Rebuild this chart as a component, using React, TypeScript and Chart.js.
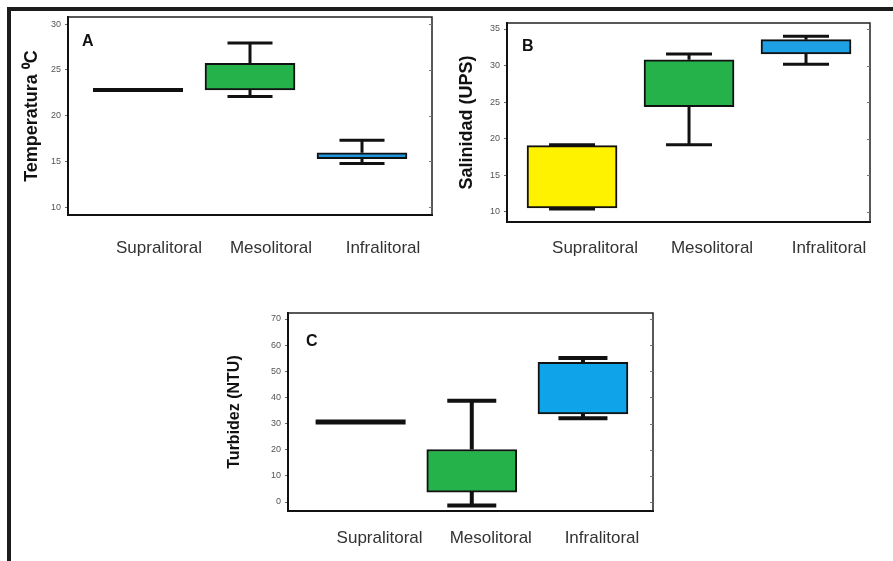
import { useEffect, useRef } from "react";
import { Chart, registerables } from "chart.js";

Chart.register(...registerables);

const FONT = 'Arial, "Liberation Sans", Helvetica, sans-serif';

// ---------- DATA ----------
const categories = ["Supralitoral", "Mesolitoral", "Infralitoral"];
const categoryPositions = [1, 2, 3];

// A — Temperatura (°C)
const tempMin = [22.8, 22.07, 14.75];
const tempQ1 = [22.8, 22.8, 15.3];
const tempQ3 = [22.8, 25.72, 15.92];
const tempMax = [22.8, 27.92, 17.3];
const tempTicks = [10, 15, 20, 25, 30];

// B — Salinidad (UPS)
const salMin = [10.4, 19.2, 30.2];
const salQ1 = [10.55, 24.4, 31.58];
const salQ3 = [19.06, 30.8, 33.54];
const salMax = [19.2, 31.58, 34.0];
const salTicks = [10, 15, 20, 25, 30, 35];

// C — Turbidez (NTU)
const turMin = [30.6, -1.3, 32.0];
const turQ1 = [30.6, 3.8, 33.7];
const turQ3 = [30.6, 20.1, 53.4];
const turMax = [30.6, 38.7, 55.1];
const turTicks = [0, 10, 20, 30, 40, 50, 60, 70];

// ---------- PANELS (layout / style) ----------
type Panel = {
  letter: string;
  title: string;
  titleSize: number;
  mins: number[];
  q1: number[];
  q3: number[];
  maxs: number[];
  ticks: number[];
  colors: string[];
  plot: { l: number; t: number; r: number; b: number };
  yMin: number;
  yMax: number;
  xMin: number;
  xMax: number;
  canvasLeft: number;
  titleCenterX: number;
  labelY: number;
  labelOffset: number;
  boxWidth: number;
  capWidth: number;
  whisker: number;
  flatLine: number;
  letterDx: number;
  letterDy: number;
};

const panels: Panel[] = [
  {
    letter: "A",
    title: "Temperatura \u2070C",
    titleSize: 18,
    mins: tempMin,
    q1: tempQ1,
    q3: tempQ3,
    maxs: tempMax,
    ticks: tempTicks,
    colors: ["#26b24b", "#26b24b", "#1b95dc"],
    plot: { l: 68, t: 17, r: 432, b: 215 },
    yMin: 9.13,
    yMax: 30.77,
    xMin: 0.375,
    xMax: 3.625,
    canvasLeft: 12,
    titleCenterX: 32,
    labelY: 248,
    labelOffset: 21,
    boxWidth: 90,
    capWidth: 45,
    whisker: 3,
    flatLine: 4,
    letterDx: 14,
    letterDy: 25,
  },
  {
    letter: "B",
    title: "Salinidad (UPS)",
    titleSize: 18,
    mins: salMin,
    q1: salQ1,
    q3: salQ3,
    maxs: salMax,
    ticks: salTicks,
    colors: ["#fff200", "#26b24b", "#1ea0e4"],
    plot: { l: 507, t: 23, r: 870, b: 222 },
    yMin: 8.63,
    yMax: 35.82,
    xMin: 0.444,
    xMax: 3.547,
    canvasLeft: 445,
    titleCenterX: 467,
    labelY: 248,
    labelOffset: 23,
    boxWidth: 90,
    capWidth: 46,
    whisker: 3,
    flatLine: 4,
    letterDx: 15,
    letterDy: 24,
  },
  {
    letter: "C",
    title: "Turbidez (NTU)",
    titleSize: 16,
    mins: turMin,
    q1: turQ1,
    q3: turQ3,
    maxs: turMax,
    ticks: turTicks,
    colors: ["#26b24b", "#26b24b", "#0fa3ea"],
    plot: { l: 288, t: 313, r: 653, b: 511 },
    yMin: -3.44,
    yMax: 72.3,
    xMin: 0.347,
    xMax: 3.63,
    canvasLeft: 215,
    titleCenterX: 235,
    labelY: 538,
    labelOffset: 19,
    boxWidth: 90,
    capWidth: 49,
    whisker: 4,
    flatLine: 5,
    letterDx: 18,
    letterDy: 29,
  },
];

const PAD_TOP = 10;
const PAD_RIGHT = 4;

function BoxPanel({ p }: { p: Panel }) {
  const ref = useRef<HTMLCanvasElement | null>(null);

  const canvasTop = p.plot.t - PAD_TOP;
  const canvasW = p.plot.r + PAD_RIGHT - p.canvasLeft;
  const canvasBottom = p.labelY + 22;
  const canvasH = canvasBottom - canvasTop;

  useEffect(() => {
    const canvas = ref.current;
    if (!canvas) return;

    const yAxisW = p.plot.l - p.canvasLeft;
    const xAxisH = canvasBottom - p.plot.b;
    const labelLH = 17 * 1.2;
    const xPad = p.labelY - p.plot.b - labelLH / 2;
    const titlePad = p.titleCenterX - p.canvasLeft - (p.titleSize * 1.2) / 2;

    const boxData: any[] = [];
    const boxColors: string[] = [];
    categories.forEach((_, i) => {
      if (p.q1[i] !== p.q3[i]) {
        boxData.push({ x: categoryPositions[i], y: [p.q1[i], p.q3[i]] });
        boxColors.push(p.colors[i]);
      }
    });

    const overlay = {
      id: "boxOverlay" + p.letter,
      beforeDatasetsDraw(chart: any) {
        const { ctx } = chart;
        const xs = chart.scales.x;
        const ys = chart.scales.y;
        ctx.save();
        ctx.strokeStyle = "#111";
        ctx.lineWidth = p.whisker;
        ctx.lineCap = "butt";
        categories.forEach((_, i) => {
          if (p.q1[i] === p.q3[i] && p.mins[i] === p.maxs[i]) return;
          const cx = xs.getPixelForValue(categoryPositions[i]);
          const yMax = ys.getPixelForValue(p.maxs[i]);
          const yQ3 = ys.getPixelForValue(p.q3[i]);
          const yQ1 = ys.getPixelForValue(p.q1[i]);
          const yMinP = ys.getPixelForValue(p.mins[i]);
          const half = p.capWidth / 2;
          ctx.beginPath();
          ctx.moveTo(cx, yQ3);
          ctx.lineTo(cx, yMax);
          ctx.moveTo(cx - half, yMax);
          ctx.lineTo(cx + half, yMax);
          ctx.moveTo(cx, yQ1);
          ctx.lineTo(cx, yMinP);
          ctx.moveTo(cx - half, yMinP);
          ctx.lineTo(cx + half, yMinP);
          ctx.stroke();
        });
        ctx.restore();
      },
      afterDatasetsDraw(chart: any) {
        const { ctx, chartArea } = chart;
        const xs = chart.scales.x;
        const ys = chart.scales.y;
        ctx.save();
        // collapsed boxes (all values equal) drawn as a thick line
        categories.forEach((_, i) => {
          if (!(p.q1[i] === p.q3[i] && p.mins[i] === p.maxs[i])) return;
          const cx = xs.getPixelForValue(categoryPositions[i]);
          const yv = ys.getPixelForValue(p.q1[i]);
          ctx.strokeStyle = "#111";
          ctx.lineWidth = p.flatLine;
          ctx.beginPath();
          ctx.moveTo(cx - p.boxWidth / 2, yv);
          ctx.lineTo(cx + p.boxWidth / 2, yv);
          ctx.stroke();
        });
        // frame top / right
        ctx.strokeStyle = "#222";
        ctx.lineWidth = 1.5;
        ctx.beginPath();
        ctx.moveTo(chartArea.left, chartArea.top);
        ctx.lineTo(chartArea.right, chartArea.top);
        ctx.lineTo(chartArea.right, chartArea.bottom);
        ctx.stroke();
        // right inner ticks
        ctx.strokeStyle = "#777";
        ctx.lineWidth = 1;
        p.ticks.forEach((v) => {
          const yv = Math.round(ys.getPixelForValue(v)) + 0.5;
          ctx.beginPath();
          ctx.moveTo(chartArea.right, yv);
          ctx.lineTo(chartArea.right - 3, yv);
          ctx.stroke();
        });
        // panel letter
        ctx.fillStyle = "#111";
        ctx.font = `bold 16px ${FONT}`;
        ctx.textAlign = "left";
        ctx.textBaseline = "middle";
        ctx.fillText(p.letter, chartArea.left + p.letterDx, chartArea.top + p.letterDy);
        ctx.restore();
      },
    };

    const chart = new Chart(canvas, {
      type: "bar",
      data: {
        datasets: [
          {
            data: boxData,
            backgroundColor: boxColors,
            borderColor: "#111",
            borderWidth: 2,
            borderSkipped: false,
            barThickness: p.boxWidth,
          } as any,
        ],
      },
      options: {
        animation: false,
        responsive: false,
        devicePixelRatio: 1,
        events: [],
        layout: { padding: { top: PAD_TOP, right: PAD_RIGHT, left: 0, bottom: 0 } },
        plugins: { legend: { display: false }, tooltip: { enabled: false } },
        scales: {
          x: {
            type: "linear",
            offset: false,
            min: p.xMin,
            max: p.xMax,
            afterBuildTicks: (s: any) => {
              s.ticks = categoryPositions.map((v) => ({ value: v }));
            },
            afterFit: (s: any) => {
              s.height = xAxisH;
            },
            ticks: {
              autoSkip: false,
              maxRotation: 0,
              minRotation: 0,
              labelOffset: p.labelOffset,
              padding: xPad,
              color: "#333",
              font: { size: 17, family: FONT },
              callback: (_v: any, idx: number) => categories[idx],
            },
            grid: { display: false, drawTicks: false, offset: false },
            border: { display: true, color: "#111", width: 2 },
          } as any,
          y: {
            type: "linear",
            min: p.yMin,
            max: p.yMax,
            afterBuildTicks: (s: any) => {
              s.ticks = p.ticks.map((v) => ({ value: v }));
            },
            afterFit: (s: any) => {
              s.width = yAxisW;
            },
            ticks: {
              color: "#555",
              padding: 4,
              font: { size: 9, family: FONT },
            },
            grid: {
              drawOnChartArea: false,
              drawTicks: true,
              tickLength: 3,
              tickColor: "#666",
            },
            border: { display: true, color: "#111", width: 2 },
            title: {
              display: true,
              text: p.title,
              color: "#111",
              font: { size: p.titleSize, weight: "bold", family: FONT },
              padding: { top: titlePad, bottom: 0 },
            },
          } as any,
        },
      },
      plugins: [overlay],
    });

    return () => chart.destroy();
  }, [p]);

  return (
    <canvas
      ref={ref}
      width={canvasW}
      height={canvasH}
      style={{
        position: "absolute",
        left: p.canvasLeft,
        top: canvasTop,
        width: canvasW,
        height: canvasH,
      }}
    />
  );
}

export default function App() {
  return (
    <div
      style={{
        position: "absolute",
        left: 0,
        top: 0,
        width: 893,
        height: 561,
        background: "#fff",
        overflow: "hidden",
      }}
    >
      <div
        style={{
          position: "absolute",
          left: 7,
          top: 7,
          width: 893 - 7,
          height: 561 - 7,
          borderTop: "4px solid #1c1c1c",
          borderLeft: "4px solid #1c1c1c",
          boxSizing: "border-box",
        }}
      />
      {panels.map((p) => (
        <BoxPanel key={p.letter} p={p} />
      ))}
    </div>
  );
}
